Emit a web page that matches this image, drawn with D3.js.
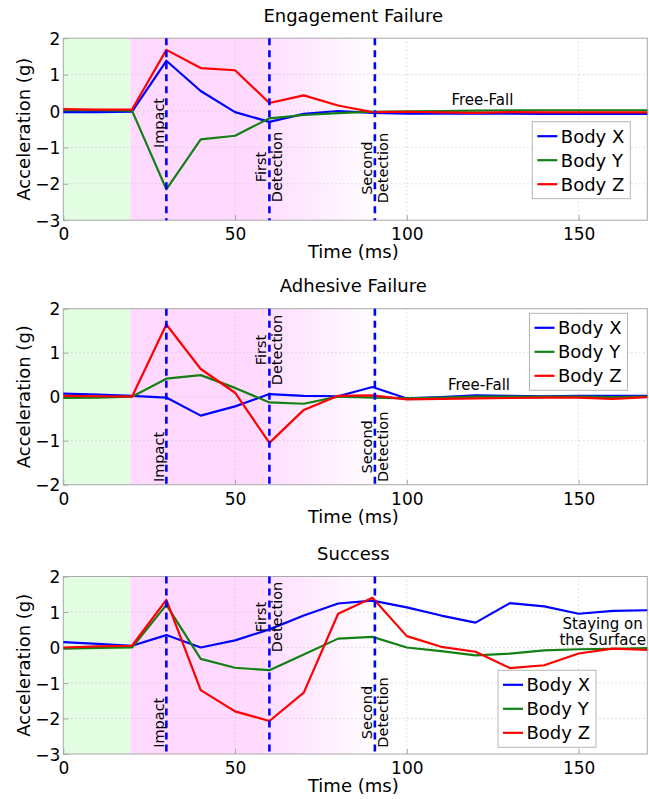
<!DOCTYPE html>
<html>
<head>
<meta charset="utf-8">
<script src="https://cdn.jsdelivr.net/npm/d3@7"></script>
<style>
body { margin: 0; background: #fff; }
svg { display: block; }
text { font-family: "DejaVu Sans", sans-serif; fill: #000; }
</style>
</head>
<body>
<script>
// sample times (ms)
var time = [0, 10, 20, 30, 40, 50, 60, 70, 80, 90, 100, 110, 120, 130, 140, 150, 160, 170];

// Engagement Failure
var engX = [-0.03, -0.03, -0.02, 1.38, 0.55, -0.03, -0.3, -0.08, 0.0, -0.05, -0.07, -0.07, -0.07, -0.07, -0.08, -0.08, -0.08, -0.08];
var engY = [0.02, 0.02, 0.01, -2.15, -0.78, -0.68, -0.2, -0.11, -0.06, -0.02, -0.01, 0.0, 0.01, 0.02, 0.02, 0.02, 0.02, 0.02];
var engZ = [0.05, 0.04, 0.04, 1.68, 1.18, 1.12, 0.22, 0.43, 0.15, -0.03, -0.02, -0.04, -0.05, -0.03, -0.04, -0.04, -0.04, -0.04];

// Adhesive Failure
var adhX = [0.07, 0.05, 0.02, -0.02, -0.43, -0.22, 0.06, 0.02, 0.01, 0.22, -0.04, -0.01, 0.03, 0.02, 0.01, 0.02, 0.02, 0.02];
var adhY = [-0.03, -0.02, 0.0, 0.41, 0.49, 0.2, -0.13, -0.16, 0.0, -0.02, -0.04, -0.02, 0.0, 0.0, 0.0, 0.0, -0.01, 0.0];
var adhZ = [0.02, 0.01, 0.0, 1.64, 0.63, 0.09, -1.05, -0.3, 0.02, 0.03, -0.06, -0.05, -0.04, -0.03, -0.02, -0.02, -0.05, -0.01];

// Success
var sucX = [0.15, 0.1, 0.05, 0.35, 0.0, 0.2, 0.51, 0.9, 1.24, 1.32, 1.13, 0.9, 0.7, 1.25, 1.16, 0.95, 1.03, 1.05];
var sucY = [-0.03, -0.01, 0.0, 1.2, -0.32, -0.57, -0.64, -0.2, 0.25, 0.3, 0.0, -0.1, -0.22, -0.17, -0.08, -0.05, -0.04, -0.02];
var sucZ = [0.0, 0.03, 0.05, 1.34, -1.2, -1.8, -2.07, -1.27, 0.95, 1.4, 0.32, 0.02, -0.12, -0.58, -0.5, -0.17, -0.03, -0.07];

var seriesNames = ["Body X", "Body Y", "Body Z"];
var seriesColors = ["#0000ff", "#138013", "#ff0000"];
var titles = ["Engagement Failure", "Adhesive Failure", "Success"];
var xTicks = [0, 50, 100, 150];
var yTicksA = [-3, -2, -1, 0, 1, 2];
var yTicksB = [-2, -1, 0, 1, 2];

// event times (ms): impact, first detection, second detection
var eventTimes = [30, 60, 90.7];
var greenEnd = 19.5;
var fadeStart = 55, fadeEnd = 92;

var width = 649, height = 799;
var plotLeft = 63.3, plotRight = 647.3;

var panels = [
    {title: titles[0], series: [engX, engY, engZ], top: 38.2, bottom: 220.2, yDomain: [-3, 2], yTicks: yTicksA,
     legend: {x: 532.3, y: 121.7}, marks: [-0.33, -1.54, -1.57],
     note: {t: 122, y: 0.165, lines: ["Free-Fall"]}},
    {title: titles[1], series: [adhX, adhY, adhZ], top: 308.7, bottom: 484.7, yDomain: [-2, 2], yTicks: yTicksB,
     legend: {x: 529.5, y: 313.3}, marks: [-1.37, 1.06, -1.14],
     note: {t: 121, y: 0.15, lines: ["Free-Fall"]}},
    {title: titles[2], series: [sucX, sucY, sucZ], top: 576.5, bottom: 754, yDomain: [-3, 2], yTicks: yTicksA,
     legend: {x: 498, y: 670.3}, marks: [-2.12, 0.86, -1.83],
     note: {t: 157, y: 0.53, lines: ["Staying on", "the Surface"]}}
];

var svg = d3.select("body").append("svg")
    .attr("width", width)
    .attr("height", height);

var defs = svg.append("defs");

var xScale = d3.scaleLinear().domain([0, 170]).range([plotLeft, plotRight]);

var grad = defs.append("linearGradient")
    .attr("id", "fade")
    .attr("gradientUnits", "userSpaceOnUse")
    .attr("x1", xScale(fadeStart)).attr("x2", xScale(fadeEnd))
    .attr("y1", 0).attr("y2", 0);
grad.append("stop").attr("offset", 0).attr("stop-color", "#ffd9ff");
grad.append("stop").attr("offset", 1).attr("stop-color", "#ffffff");

panels.forEach(function(p, pi) {
    var yScale = d3.scaleLinear().domain(p.yDomain).range([p.bottom, p.top]);
    var g = svg.append("g");
    var h = p.bottom - p.top;

    // shaded phases
    g.append("rect")
        .attr("x", xScale(0)).attr("y", p.top)
        .attr("width", xScale(greenEnd) - xScale(0)).attr("height", h)
        .attr("fill", "#e2fde2");
    g.append("rect")
        .attr("x", xScale(greenEnd)).attr("y", p.top)
        .attr("width", xScale(fadeEnd) - xScale(greenEnd)).attr("height", h)
        .attr("fill", "url(#fade)");

    // grid
    g.selectAll(".xg").data(xTicks.filter(function(d) { return d > 0; }))
        .enter().append("line")
        .attr("x1", function(d) { return xScale(d); }).attr("x2", function(d) { return xScale(d); })
        .attr("y1", p.top).attr("y2", p.bottom)
        .attr("stroke", "#c4c4c4").attr("stroke-width", 1).attr("stroke-dasharray", "1,3");
    g.selectAll(".yg").data(p.yTicks.slice(1, -1))
        .enter().append("line")
        .attr("x1", plotLeft).attr("x2", plotRight)
        .attr("y1", function(d) { return yScale(d); }).attr("y2", function(d) { return yScale(d); })
        .attr("stroke", "#c4c4c4").attr("stroke-width", 1).attr("stroke-dasharray", "1,3");

    // axes (ticks inside, labels via d3 axis)
    var xAxis = d3.axisBottom(xScale).tickValues(xTicks).tickSize(-5).tickPadding(7);
    var yAxis = d3.axisLeft(yScale).tickValues(p.yTicks).tickSize(-5).tickPadding(4)
        .tickFormat(function(d) { return d < 0 ? "\u2212" + Math.abs(d) : d; });
    var xa = g.append("g").attr("transform", "translate(0," + p.bottom + ")").call(xAxis);
    var ya = g.append("g").attr("transform", "translate(" + plotLeft + ",0)").call(yAxis);
    [xa, ya].forEach(function(a) {
        a.select(".domain").remove();
        a.selectAll(".tick line").attr("stroke", "#a8a8a8");
        a.selectAll(".tick text").attr("font-size", 17).attr("font-family", "DejaVu Sans").attr("fill", "#000");
    });
    xa.selectAll(".tick text").attr("dy", null).attr("y", 20);
    ya.selectAll(".tick text").attr("dy", "0.36em").attr("x", -3);

    // frame
    g.append("rect")
        .attr("x", plotLeft).attr("y", p.top)
        .attr("width", plotRight - plotLeft).attr("height", h)
        .attr("fill", "none").attr("stroke", "#a8a8a8").attr("stroke-width", 1);

    // data lines
    var line = d3.line()
        .x(function(d, i) { return xScale(time[i]); })
        .y(function(d) { return yScale(d); });
    p.series.forEach(function(s, si) {
        g.append("path")
            .attr("d", line(s))
            .attr("fill", "none")
            .attr("stroke", seriesColors[si])
            .attr("stroke-width", 2.2)
            .attr("stroke-linejoin", "round");
    });

    // event lines
    eventTimes.forEach(function(t) {
        g.append("line")
            .attr("x1", xScale(t)).attr("x2", xScale(t))
            .attr("y1", p.top).attr("y2", p.bottom)
            .attr("stroke", "#0000ff").attr("stroke-width", 2.6)
            .attr("stroke-dasharray", "7,5");
    });

    // event labels (rotated)
    var labels = [["Impact"], ["First", "Detection"], ["Second", "Detection"]];
    labels.forEach(function(lines, li) {
        var t = g.append("text")
            .attr("transform", "translate(" + xScale(eventTimes[li]) + "," + yScale(p.marks[li]) + ") rotate(-90)")
            .attr("text-anchor", "middle")
            .attr("font-size", 14.5);
        if (lines.length === 1) {
            t.append("tspan").attr("x", 0).attr("y", -2).text(lines[0]);
        } else {
            t.append("tspan").attr("x", 0).attr("y", -3).text(lines[0]);
            t.append("tspan").attr("x", 0).attr("y", 13).text(lines[1]);
        }
    });

    // phase note
    var nt = g.append("text")
        .attr("x", xScale(p.note.t)).attr("y", yScale(p.note.y))
        .attr("text-anchor", "middle")
        .attr("font-size", 15);
    p.note.lines.forEach(function(l, li) {
        nt.append("tspan").attr("x", xScale(p.note.t)).attr("dy", li === 0 ? 0 : 16).text(l);
    });

    // title and axis labels
    g.append("text")
        .attr("x", (plotLeft + plotRight) / 2 - 2).attr("y", p.top - 16.7)
        .attr("text-anchor", "middle").attr("font-size", 18)
        .text(p.title);
    g.append("text")
        .attr("x", (plotLeft + plotRight) / 2 - 2).attr("y", p.bottom + 38)
        .attr("text-anchor", "middle").attr("font-size", 18)
        .text("Time (ms)");
    g.append("text")
        .attr("transform", "translate(30," + (p.top + h / 2) + ") rotate(-90)")
        .attr("text-anchor", "middle").attr("font-size", 18)
        .text("Acceleration (g)");

    // legend
    var lg = g.append("g").attr("transform", "translate(" + p.legend.x + "," + p.legend.y + ")");
    lg.append("rect")
        .attr("width", 98).attr("height", 77)
        .attr("fill", "#fff").attr("stroke", "#b4b4b4").attr("stroke-width", 1);
    seriesNames.forEach(function(n, si) {
        var cy = 14.5 + si * 24;
        lg.append("line")
            .attr("x1", 5).attr("x2", 25).attr("y1", cy).attr("y2", cy)
            .attr("stroke", seriesColors[si]).attr("stroke-width", 2.2);
        lg.append("text")
            .attr("x", 28.5).attr("y", cy).attr("dy", "0.36em")
            .attr("font-size", 18)
            .text(n);
    });
});
</script>
</body>
</html>
